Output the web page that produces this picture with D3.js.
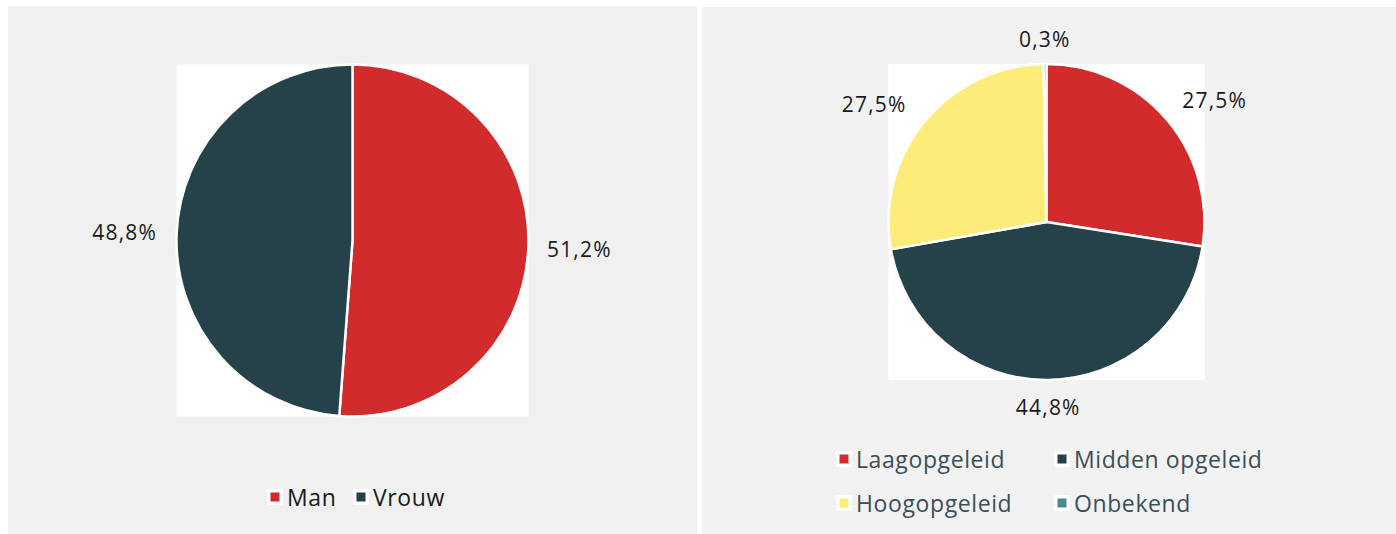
<!DOCTYPE html>
<html><head><meta charset="utf-8">
<script src="https://cdn.jsdelivr.net/npm/d3@7"></script>
<style>body{margin:0;background:#fff;}svg{display:block;}</style>
</head><body>
<svg id="c" width="1396" height="534"></svg>
<script>
const genderCategories = ["Man", "Vrouw"];
const genderValues = [51.2, 48.8];
const genderLabels = ["51,2%", "48,8%"];
const genderColors = ["#d22b2b", "#25424a"];

const eduCategories = ["Laagopgeleid", "Midden opgeleid", "Hoogopgeleid", "Onbekend"];
const eduValues = [27.5, 44.8, 27.5, 0.3];
const eduLabels = ["27,5%", "44,8%", "27,5%", "0,3%"];
const eduColors = ["#d22b2b", "#25424a", "#fdeb7a", "#4a8a96"];

const svg = d3.select("#c");
const FONT = "'Open Sans', 'Noto Sans', sans-serif";

// panels
svg.append("rect").attr("x", 8).attr("y", 6).attr("width", 689).attr("height", 528).attr("fill", "#f0f0f0");
svg.append("rect").attr("x", 702).attr("y", 7).attr("width", 694).attr("height", 527).attr("fill", "#f2f2f2");

function drawPie(cfg) {
  const g = svg.append("g");
  g.append("rect").attr("x", cfg.cx - cfg.r).attr("y", cfg.cy - cfg.r)
    .attr("width", cfg.r * 2).attr("height", cfg.r * 2).attr("fill", "#fff");
  const pie = d3.pie().sort(null).value(d => d.v);
  const arcs = pie(cfg.values.map((v, i) => ({v, i})));
  const arc = d3.arc().innerRadius(0).outerRadius(cfg.r);
  const pg = g.append("g").attr("transform", `translate(${cfg.cx},${cfg.cy})`);
  pg.selectAll("path").data(arcs).join("path")
    .attr("d", arc).attr("fill", d => cfg.colors[d.data.i])
    .attr("stroke", "#fff").attr("stroke-width", 2.5).attr("stroke-linejoin", "round");
  const pos = d => {
    const [lr, nudge] = cfg.lp[d.data.i];
    const a = (d.startAngle + d.endAngle) / 2 + nudge * Math.PI / 180;
    return [Math.sin(a) * lr, -Math.cos(a) * lr];
  };
  pg.selectAll("text").data(arcs).join("text")
    .attr("x", d => pos(d)[0]).attr("y", d => pos(d)[1])
    .attr("text-anchor", "middle").attr("dominant-baseline", "central")
    .attr("font-family", FONT).attr("font-size", 21).attr("letter-spacing", 1.2).attr("fill", "#1a1a1a")
    .text(d => cfg.labels[d.data.i]);
}

drawPie({cx: 352.5, cy: 240.5, r: 176, values: genderValues, colors: genderColors, labels: genderLabels,
  lp: [[227, 0], [228, 0]]});
drawPie({cx: 1046.5, cy: 222, r: 158, values: eduValues, colors: eduColors, labels: eduLabels,
  lp: [[208, 4.5], [185, 0], [209, -5], [183, 0]]});

function legend(items, colors, positions, textColor) {
  items.forEach((name, i) => {
    const [x, y] = positions[i];
    svg.append("rect").attr("x", x).attr("y", y - 8).attr("width", 16).attr("height", 16).attr("fill", "#fff").attr("rx", 1.5);
    svg.append("rect").attr("x", x + 3.5).attr("y", y - 4.5).attr("width", 9).attr("height", 9).attr("fill", colors[i]);
    svg.append("text").attr("x", x + 20).attr("y", y).attr("dominant-baseline", "central")
      .attr("font-family", FONT).attr("font-size", 23).attr("letter-spacing", 0.6).attr("fill", textColor).text(name);
  });
}
legend(genderCategories, genderColors, [[267, 497], [353, 497]], "#1a1a1a");
legend(eduCategories, eduColors, [[836, 459], [1054, 459], [836, 503], [1054, 503]], "#3a4f56");
</script>
</body></html>
